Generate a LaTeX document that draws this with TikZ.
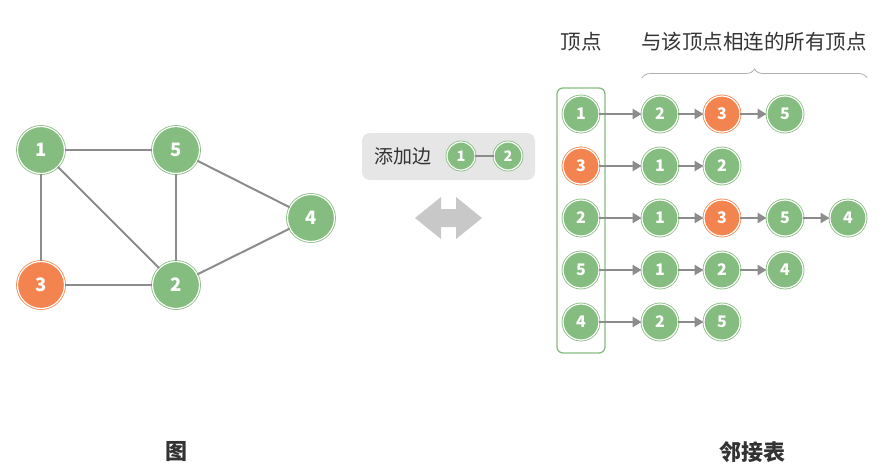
\documentclass[tikz,border=0pt]{standalone}
\usepackage{fontspec}
\setmainfont{Noto Sans CJK SC}
\usetikzlibrary{arrows.meta,decorations.pathreplacing}
\definecolor{gk}{HTML}{85BC80}
\definecolor{ok}{HTML}{F3844F}
\definecolor{eg}{HTML}{8C8C8C}
\definecolor{boxg}{HTML}{E6E6E6}
\definecolor{arrg}{HTML}{C8C8C8}
\definecolor{txt}{HTML}{333333}
\begin{document}
\begin{tikzpicture}[x=1pt,y=-1pt,
  vbase/.style={circle, draw=gk, double=white, double distance=1.2pt, line width=0.8pt, inner sep=0pt, text=white},
  gnode/.style={vbase, fill=gk, minimum size=47pt, font=\bfseries\fontsize{18.5}{18.5}\selectfont},
  lnode/.style={vbase, fill=gk, minimum size=36pt, font=\bfseries\fontsize{16}{16}\selectfont},
  snode/.style={vbase, fill=gk, minimum size=28pt, font=\bfseries\fontsize{14.5}{14.5}\selectfont},
  hot/.style={fill=ok, draw=ok},
  gedge/.style={draw=eg, line width=2pt},
  larr/.style={draw=eg, line width=2pt, -{Triangle[length=9pt,width=10pt]}},
  lbl/.style={text=txt, font=\fontsize{20.5}{20.5}\selectfont},
  blbl/.style={text=txt, font=\bfseries\fontsize{22}{22}\selectfont}]
\useasboundingbox (0,0) rectangle (886,467);
% graph
\node[gnode] (g1) at (41,150) {1};
\node[gnode] (g5) at (176,150) {5};
\node[gnode] (g4) at (311,218) {4};
\node[gnode,hot] (g3) at (41,285) {3};
\node[gnode] (g2) at (176,285) {2};
\draw[gedge] (g1) -- (g5);
\draw[gedge] (g1) -- (g3);
\draw[gedge] (g1) -- (g2);
\draw[gedge] (g5) -- (g2);
\draw[gedge] (g5) -- (g4);
\draw[gedge] (g3) -- (g2);
\draw[gedge] (g2) -- (g4);
\node[blbl] (tg) at (176,452) {图};
% middle
\node[fill=boxg, rounded corners=8pt, minimum width=173pt, minimum height=47pt] (addbox) at (448.5,156.5) {};
\node[lbl, font=\fontsize{19}{19}\selectfont] (addtxt) at (403,156) {添加边};
\node[snode] (s1) at (461,156) {1};
\node[snode] (s2) at (508,156) {2};
\draw[draw=eg, line width=1.5pt] (s1) -- (s2);
\fill[arrg] (415,218) -- (441,197) -- (441,209) -- (456,209) -- (456,197) -- (482,218) -- (456,239) -- (456,227) -- (441,227) -- (441,239) -- cycle;
% adjacency list
\node[lbl] (hv) at (581,42) {顶点};
\node[lbl] (hn) at (754,42) {与该顶点相连的所有顶点};
\draw[draw=eg!70, line width=0.8pt, decorate, decoration={brace, amplitude=9pt}] (642,78) -- (867,78);
\draw[draw=gk, line width=1.3pt, rounded corners=6pt] (557,88) rectangle (605,353);
% row 1
\node[lnode] (v1) at (581,114) {1};
\node[lnode] (a12) at (660,114) {2};
\node[lnode,hot] (a13) at (722,114) {3};
\node[lnode] (a15) at (785,114) {5};
\draw[larr] (v1) -- (a12);
\draw[larr] (a12) -- (a13);
\draw[larr] (a13) -- (a15);
% row 2
\node[lnode,hot] (v3) at (581,166) {3};
\node[lnode] (a31) at (660,166) {1};
\node[lnode] (a32) at (722,166) {2};
\draw[larr] (v3) -- (a31);
\draw[larr] (a31) -- (a32);
% row 3
\node[lnode] (v2) at (581,218) {2};
\node[lnode] (a21) at (660,218) {1};
\node[lnode,hot] (a23) at (722,218) {3};
\node[lnode] (a25) at (785,218) {5};
\node[lnode] (a24) at (848,218) {4};
\draw[larr] (v2) -- (a21);
\draw[larr] (a21) -- (a23);
\draw[larr] (a23) -- (a25);
\draw[larr] (a25) -- (a24);
% row 4
\node[lnode] (v5) at (581,270) {5};
\node[lnode] (a51) at (660,270) {1};
\node[lnode] (a52) at (722,270) {2};
\node[lnode] (a54) at (785,270) {4};
\draw[larr] (v5) -- (a51);
\draw[larr] (a51) -- (a52);
\draw[larr] (a52) -- (a54);
% row 5
\node[lnode] (v4) at (581,322) {4};
\node[lnode] (a42) at (660,322) {2};
\node[lnode] (a45) at (722,322) {5};
\draw[larr] (v4) -- (a42);
\draw[larr] (a42) -- (a45);
\node[blbl] (tl) at (752,452) {邻接表};
\end{tikzpicture}
\end{document}
